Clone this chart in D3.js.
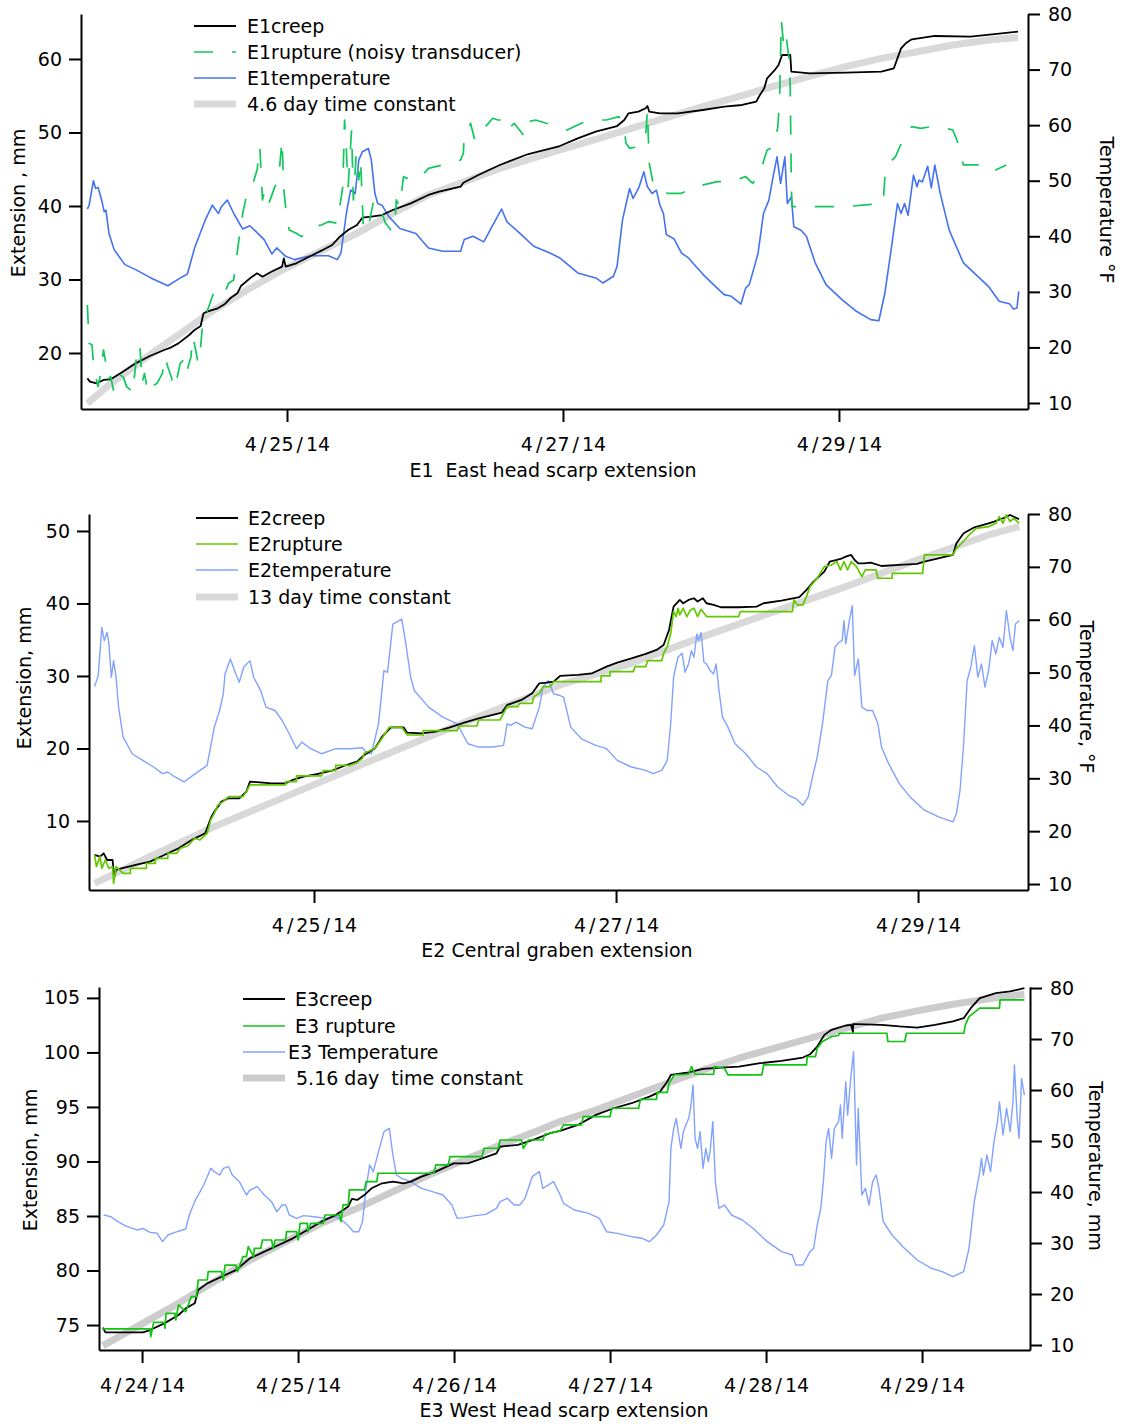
<!DOCTYPE html>
<html>
<head>
<meta charset="utf-8">
<script src="https://cdn.jsdelivr.net/npm/d3@7"></script>
<style>
  body { margin: 0; background: #fff; }
  svg text { font-family: "DejaVu Sans", sans-serif; font-size: 19px; fill: #000; }
</style>
</head>
<body>
<svg id="chart" width="1122" height="1424"></svg>
<script>
// time values are days after 4/23/14 00:00, readings taken off the original plot

// ---- E1 East head scarp ----
const e1Temp = [[0.553,44.9],[0.566,45.6],[0.597,50.0],[0.613,48.6],[0.631,48.8],[0.657,46.5],[0.675,44.4],[0.688,44.7],[0.709,40.6],[0.747,37.6],[0.825,34.9],[0.903,34.0],[1.006,32.6],[1.136,31.1],[1.213,32.3],[1.278,33.2],[1.330,37.9],[1.407,42.9],[1.459,45.6],[1.503,44.1],[1.524,45.3],[1.568,46.5],[1.614,44.1],[1.679,41.3],[1.731,41.9],[1.834,39.4],[1.891,36.8],[1.925,37.9],[1.990,36.4],[2.054,35.8],[2.171,36.5],[2.300,36.5],[2.365,35.8],[2.391,37.0],[2.430,44.1],[2.461,48.3],[2.494,47.7],[2.520,53.7],[2.546,55.2],[2.590,55.8],[2.611,53.7],[2.637,47.7],[2.657,45.9],[2.688,45.6],[2.740,43.5],[2.818,41.4],[2.934,40.5],[3.025,37.9],[3.128,37.3],[3.258,37.3],[3.284,39.4],[3.348,40.0],[3.426,39.0],[3.504,42.6],[3.555,44.9],[3.594,42.6],[3.698,40.3],[3.788,38.2],[3.905,37.0],[3.977,36.1],[4.107,33.4],[4.237,32.5],[4.289,31.6],[4.366,32.8],[4.392,34.6],[4.431,42.9],[4.483,48.6],[4.508,46.8],[4.552,48.9],[4.586,51.6],[4.612,48.9],[4.646,47.7],[4.677,48.3],[4.702,45.6],[4.728,44.1],[4.749,40.3],[4.806,39.5],[4.858,37.0],[4.909,36.1],[5.013,33.2],[5.091,31.3],[5.168,29.5],[5.220,29.2],[5.290,27.8],[5.324,30.7],[5.350,31.3],[5.388,34.6],[5.414,37.0],[5.453,44.1],[5.492,46.5],[5.518,50.1],[5.551,54.3],[5.577,49.5],[5.608,54.3],[5.626,45.9],[5.655,47.1],[5.673,41.7],[5.725,41.1],[5.764,40.0],[5.828,35.2],[5.906,31.3],[6.022,28.6],[6.126,26.5],[6.230,25.0],[6.289,24.8],[6.333,29.8],[6.385,38.8],[6.424,45.9],[6.450,44.1],[6.475,45.9],[6.501,43.8],[6.540,51.0],[6.566,48.9],[6.579,50.1],[6.605,49.8],[6.643,52.6],[6.669,48.7],[6.695,52.8],[6.734,47.7],[6.799,41.1],[6.902,35.2],[7.006,32.8],[7.083,31.0],[7.161,28.3],[7.239,27.8],[7.264,26.9],[7.290,27.1],[7.303,30.1]];

const e1Creep = [[0.553,16.55],[0.572,16.1],[0.619,15.87],[0.670,16.33],[0.722,16.42],[0.799,17.32],[0.903,18.59],[1.006,19.59],[1.110,20.41],[1.161,20.77],[1.213,21.31],[1.291,22.45],[1.330,23.13],[1.374,23.67],[1.395,25.40],[1.420,25.62],[1.498,26.08],[1.550,26.67],[1.589,27.44],[1.640,28.12],[1.666,29.11],[1.731,30.16],[1.783,30.84],[1.822,30.38],[1.886,31.06],[1.964,31.75],[1.977,32.88],[1.990,31.75],[2.067,32.2],[2.171,33.2],[2.249,33.92],[2.327,34.69],[2.378,35.74],[2.443,36.73],[2.507,37.41],[2.546,38.41],[2.611,38.55],[2.688,38.77],[2.766,39.45],[2.896,40.36],[3.025,41.5],[3.102,41.95],[3.258,42.63],[3.278,43.17],[3.387,44.22],[3.542,45.58],[3.749,47.07],[3.977,48.16],[4.107,49.2],[4.237,50.11],[4.392,50.88],[4.444,51.7],[4.475,52.61],[4.547,52.83],[4.599,53.29],[4.612,53.6],[4.625,52.83],[4.702,52.61],[4.832,52.61],[5.013,53.06],[5.168,53.51],[5.298,53.74],[5.401,54.19],[5.427,55.1],[5.458,56.0],[5.479,57.37],[5.531,58.41],[5.562,59.18],[5.588,60.54],[5.647,60.54],[5.655,58.27],[5.790,58.05],[6.048,58.14],[6.307,58.27],[6.398,58.73],[6.450,61.45],[6.489,62.22],[6.528,62.67],[6.695,63.13],[6.954,63.04],[7.298,63.72]];

const e1Rupture = [[0.553,26.53],[0.566,21.31],[0.587,21.09],[0.597,18.59],[0.613,16.78],[0.631,15.42],[0.649,17.23],[0.670,20.41],[0.683,19.05],[0.696,16.33],[0.722,16.78],[0.742,14.97],[0.773,17.23],[0.812,16.78],[0.838,15.42],[0.864,14.97],[0.882,14.51],[0.916,20.86],[0.934,21.09],[0.949,15.87],[0.967,17.23],[0.993,14.51],[1.019,15.42],[1.058,15.87],[1.097,17.23],[1.115,19.5],[1.136,18.14],[1.161,16.78],[1.182,15.19],[1.200,16.33],[1.226,18.59],[1.252,19.05],[1.270,17.23],[1.304,19.5],[1.317,22.22],[1.338,20.41],[1.356,18.59],[1.374,20.86],[1.395,25.4],[1.420,25.62],[1.467,28.12],[1.498,27.66],[1.537,27.66],[1.576,29.48],[1.614,29.93],[1.632,32.65],[1.648,34.92],[1.666,37.19],[1.679,39.0],[1.700,40.82],[1.731,41.72],[1.757,43.31],[1.783,44.9],[1.803,48.07],[1.822,40.82],[1.834,41.72],[1.860,39.91],[1.886,41.27],[1.912,42.63],[1.938,43.54],[1.964,48.98],[1.977,42.17],[1.990,39.91],[2.016,36.73],[2.067,36.28],[2.106,35.83],[2.145,36.73],[2.197,37.19],[2.249,37.41],[2.300,37.87],[2.365,37.64],[2.404,42.63],[2.417,51.7],[2.430,47.62],[2.443,42.63],[2.468,50.34],[2.481,40.82],[2.502,47.16],[2.520,43.54],[2.533,46.26],[2.554,36.73],[2.585,36.73],[2.624,40.36],[2.650,40.82],[2.688,39.0],[2.714,37.64],[2.753,36.73],[2.779,36.73],[2.792,40.82],[2.818,39.91],[2.844,43.99],[2.896,43.54],[2.973,43.99],[3.025,45.12],[3.077,45.35],[3.128,45.58],[3.180,45.8],[3.258,46.26],[3.278,47.16],[3.284,49.43],[3.310,49.89],[3.330,51.25],[3.361,48.98],[3.400,49.43],[3.439,50.79],[3.491,51.93],[3.529,51.7],[3.568,51.7],[3.594,50.34],[3.646,51.25],[3.723,49.43],[3.749,51.47],[3.801,51.7],[3.879,51.25],[3.977,50.79],[4.030,50.34],[4.133,51.25],[4.211,51.7],[4.314,51.7],[4.405,52.15],[4.444,50.34],[4.457,48.52],[4.483,47.84],[4.547,48.07],[4.599,49.43],[4.612,53.06],[4.625,45.8],[4.651,43.31],[4.702,43.08],[4.754,41.72],[4.858,41.72],[4.961,42.63],[5.117,43.31],[5.220,43.31],[5.324,43.99],[5.375,43.08],[5.427,44.44],[5.479,47.62],[5.531,48.07],[5.557,50.79],[5.570,54.42],[5.582,65.3],[5.603,61.22],[5.621,62.58],[5.639,59.86],[5.647,55.78],[5.655,42.63],[5.660,39.91],[5.790,39.91],[6.048,39.91],[6.320,40.36],[6.338,45.35],[6.410,46.71],[6.462,48.98],[6.527,50.79],[6.592,50.57],[6.669,50.79],[6.772,50.57],[6.825,50.34],[6.864,48.52],[6.902,45.58],[7.006,45.58],[7.109,45.58],[7.135,44.9],[7.213,45.58]];

const e1Fit = [[0.553,13.15],[0.696,15.42],[0.955,19.05],[1.213,22.45],[1.472,25.85],[1.731,28.8],[1.990,31.52],[2.249,33.92],[2.507,36.28],[2.766,39.0],[3.025,41.5],[3.284,43.31],[3.542,45.12],[3.977,47.62],[4.237,49.07],[4.496,50.56],[4.754,52.06],[5.013,53.51],[5.272,54.87],[5.531,56.32],[5.790,57.68],[6.048,58.95],[6.307,60.08],[6.566,60.99],[6.825,61.9],[7.083,62.58],[7.298,62.94]];

// ---- E2 Central graben ----
const e2Temp = [[0.547,47.36],[0.571,49.43],[0.595,58.55],[0.611,56.04],[0.630,57.61],[0.642,55.41],[0.658,49.12],[0.673,52.26],[0.689,49.12],[0.706,43.46],[0.736,37.8],[0.796,34.65],[0.866,33.39],[0.937,32.14],[0.997,30.88],[1.032,31.19],[1.079,30.25],[1.139,29.31],[1.198,30.56],[1.292,32.45],[1.340,39.68],[1.375,42.83],[1.399,45.97],[1.411,49.75],[1.446,52.58],[1.482,49.75],[1.505,48.17],[1.534,51.0],[1.576,52.26],[1.600,49.12],[1.647,46.6],[1.682,43.46],[1.742,42.83],[1.789,40.94],[1.836,38.43],[1.884,35.6],[1.919,36.85],[1.978,35.6],[2.049,34.65],[2.144,35.6],[2.238,35.6],[2.321,35.78],[2.345,34.97],[2.380,34.65],[2.427,40.31],[2.463,50.38],[2.487,50.06],[2.522,59.18],[2.581,60.12],[2.605,56.04],[2.640,49.12],[2.664,46.6],[2.759,43.46],[2.853,41.57],[2.948,40.31],[3.019,36.54],[3.090,35.91],[3.184,35.91],[3.255,36.22],[3.279,40.31],[3.303,40.0],[3.338,40.63],[3.397,39.68],[3.445,39.37],[3.492,43.46],[3.516,47.23],[3.551,48.49],[3.587,45.97],[3.629,45.66],[3.653,45.34],[3.700,39.68],[3.771,37.48],[3.866,36.22],[3.937,35.6],[4.008,33.39],[4.102,32.14],[4.197,31.51],[4.244,30.88],[4.303,31.51],[4.339,33.39],[4.362,40.31],[4.381,49.12],[4.410,52.89],[4.438,53.65],[4.457,50.06],[4.480,51.64],[4.499,54.15],[4.516,52.89],[4.535,57.3],[4.547,56.04],[4.563,57.61],[4.582,51.95],[4.599,51.64],[4.623,50.38],[4.646,49.75],[4.663,51.64],[4.682,46.6],[4.705,41.57],[4.741,39.68],[4.788,36.54],[4.859,34.65],[4.930,32.14],[5.000,30.88],[5.071,28.36],[5.142,26.79],[5.190,26.16],[5.237,24.9],[5.273,26.48],[5.296,29.62],[5.332,34.02],[5.367,40.31],[5.403,48.49],[5.426,49.43],[5.450,54.78],[5.474,55.72],[5.497,56.04],[5.509,59.81],[5.521,55.41],[5.545,59.81],[5.564,62.64],[5.580,49.43],[5.604,52.58],[5.628,43.46],[5.663,42.83],[5.699,42.83],[5.734,40.31],[5.758,35.91],[5.805,32.77],[5.876,28.99],[5.947,26.48],[6.042,23.96],[6.136,22.7],[6.231,21.76],[6.254,23.33],[6.278,27.74],[6.302,36.54],[6.325,48.49],[6.349,51.0],[6.373,55.09],[6.396,49.12],[6.420,51.64],[6.443,47.23],[6.467,50.38],[6.491,56.04],[6.515,53.52],[6.538,56.67],[6.562,54.78],[6.585,61.7],[6.609,56.67],[6.628,54.15],[6.645,59.18],[6.669,59.81]];

const e2Creep = [[0.547,5.31],[0.583,5.08],[0.607,5.54],[0.630,4.62],[0.666,4.62],[0.677,2.32],[0.689,3.24],[0.725,3.47],[0.819,3.93],[0.914,4.39],[1.008,5.31],[1.103,6.23],[1.198,7.47],[1.280,8.30],[1.316,10.37],[1.340,11.29],[1.387,12.67],[1.434,13.13],[1.505,13.13],[1.552,14.05],[1.576,15.43],[1.718,15.2],[1.812,15.2],[1.860,15.66],[1.931,16.12],[2.025,16.48],[2.120,16.94],[2.214,17.72],[2.285,18.18],[2.333,19.1],[2.404,20.02],[2.451,21.63],[2.510,22.92],[2.593,22.92],[2.617,22.18],[2.711,22.09],[2.806,22.32],[2.900,22.92],[2.995,23.56],[3.090,24.16],[3.184,24.62],[3.243,24.94],[3.279,26.0],[3.374,26.69],[3.445,27.61],[3.492,28.99],[3.539,29.08],[3.587,29.22],[3.629,30.0],[3.747,30.14],[3.842,30.37],[3.937,31.29],[4.008,31.84],[4.102,32.44],[4.197,33.04],[4.268,33.59],[4.315,34.28],[4.351,36.35],[4.381,39.57],[4.422,40.49],[4.445,40.03],[4.480,40.49],[4.516,40.72],[4.540,40.26],[4.575,40.72],[4.599,40.03],[4.646,39.8],[4.694,39.48],[4.812,39.48],[4.930,39.57],[4.977,40.03],[5.095,40.4],[5.214,40.86],[5.261,41.87],[5.308,43.01],[5.379,44.39],[5.415,45.77],[5.462,46.0],[5.497,46.23],[5.521,46.46],[5.557,46.69],[5.580,46.0],[5.604,45.54],[5.639,45.54],[5.687,45.63],[5.758,45.17],[5.876,45.31],[5.994,45.45],[6.042,45.77],[6.231,46.69],[6.254,48.3],[6.302,49.68],[6.373,50.51],[6.467,51.06],[6.503,51.29],[6.562,51.75],[6.609,52.21],[6.669,51.61]];

const e2Rupture = [[0.547,5.31],[0.559,3.70],[0.583,5.08],[0.595,3.47],[0.618,4.62],[0.642,3.47],[0.666,3.70],[0.673,1.40],[0.689,3.70],[0.736,2.78],[0.784,2.78],[0.784,3.47],[0.890,3.47],[0.890,4.16],[0.949,4.16],[0.949,4.85],[1.032,4.85],[1.032,5.54],[1.091,5.54],[1.115,6.23],[1.162,6.55],[1.210,7.61],[1.245,7.38],[1.292,8.30],[1.316,10.14],[1.340,11.06],[1.363,12.21],[1.399,12.67],[1.434,13.36],[1.529,13.36],[1.552,14.05],[1.576,14.97],[1.812,14.97],[1.812,15.43],[1.884,15.43],[1.884,16.21],[2.049,16.21],[2.061,16.94],[2.144,16.94],[2.144,17.68],[2.238,17.68],[2.285,18.05],[2.321,18.64],[2.333,19.33],[2.404,20.02],[2.451,21.4],[2.498,22.92],[2.581,22.92],[2.617,21.86],[2.723,21.86],[2.723,22.46],[2.948,22.46],[2.960,23.1],[3.078,23.1],[3.090,23.93],[3.231,23.93],[3.255,24.85],[3.279,25.77],[3.350,25.77],[3.362,26.23],[3.445,26.23],[3.456,27.15],[3.492,27.61],[3.516,28.53],[3.563,28.53],[3.587,29.22],[3.901,29.22],[3.901,30.0],[3.960,30.0],[3.960,30.6],[4.114,30.6],[4.126,31.29],[4.197,31.29],[4.209,32.12],[4.303,32.12],[4.315,33.13],[4.339,34.05],[4.362,35.89],[4.381,38.88],[4.398,38.19],[4.410,39.34],[4.422,38.42],[4.445,39.34],[4.469,38.19],[4.493,39.11],[4.516,39.34],[4.540,38.19],[4.563,39.2],[4.599,38.19],[4.812,38.19],[4.823,38.88],[5.167,38.88],[5.178,40.49],[5.202,39.8],[5.237,39.8],[5.261,40.95],[5.285,42.33],[5.332,43.48],[5.379,45.08],[5.426,45.31],[5.462,45.77],[5.486,44.62],[5.509,45.77],[5.533,44.62],[5.557,45.77],[5.592,45.08],[5.628,43.7],[5.651,44.62],[5.722,44.62],[5.734,43.48],[5.829,43.48],[5.829,44.16],[6.030,44.16],[6.042,46.69],[6.231,46.69],[6.254,47.61],[6.278,48.07],[6.349,49.68],[6.385,50.37],[6.467,50.6],[6.515,51.06],[6.538,51.98],[6.562,51.06],[6.585,52.21],[6.609,51.29],[6.633,51.75],[6.669,51.06]];

const e2Fit = [[0.547,1.4],[0.867,4.62],[1.340,9.22],[1.812,13.36],[2.285,17.5],[2.759,21.63],[3.232,25.54],[3.629,28.76],[4.102,31.75],[4.575,35.43],[5.048,38.88],[5.521,42.33],[5.994,46.0],[6.467,49.45],[6.669,50.6]];

// ---- E3 West head scarp ----
const e3Temp = [[0.754,35.49],[0.799,35.16],[0.845,34.18],[0.891,33.4],[0.937,32.88],[0.971,32.55],[1.005,32.88],[1.051,32.09],[1.097,31.9],[1.131,30.26],[1.166,31.57],[1.211,32.09],[1.280,32.75],[1.303,35.49],[1.337,38.1],[1.395,41.37],[1.441,44.64],[1.463,43.99],[1.498,43.33],[1.521,44.64],[1.555,44.97],[1.578,43.33],[1.624,42.03],[1.669,39.41],[1.692,40.39],[1.738,41.05],[1.784,39.41],[1.830,38.1],[1.864,36.14],[1.898,37.45],[1.921,37.45],[1.944,35.49],[1.990,34.84],[2.036,35.36],[2.104,35.16],[2.173,34.84],[2.242,35.16],[2.288,34.31],[2.322,33.4],[2.356,32.22],[2.390,32.22],[2.413,34.18],[2.436,40.72],[2.459,45.29],[2.482,43.99],[2.516,47.91],[2.551,51.83],[2.585,52.48],[2.608,47.25],[2.631,43.33],[2.665,42.68],[2.723,42.03],[2.791,40.72],[2.860,40.07],[2.929,39.41],[2.986,37.45],[3.020,34.84],[3.066,34.97],[3.135,35.36],[3.203,35.62],[3.272,36.8],[3.295,38.1],[3.341,38.76],[3.386,37.45],[3.421,37.45],[3.455,38.76],[3.501,43.01],[3.547,43.99],[3.569,40.72],[3.604,41.37],[3.638,42.03],[3.680,39.41],[3.702,37.78],[3.771,36.47],[3.863,35.82],[3.932,34.84],[3.977,32.22],[4.046,31.9],[4.138,31.24],[4.206,30.92],[4.252,30.26],[4.298,31.57],[4.344,33.53],[4.378,38.1],[4.390,48.56],[4.408,52.48],[4.424,54.44],[4.440,51.18],[4.454,48.56],[4.470,51.83],[4.486,53.14],[4.504,54.44],[4.516,56.4],[4.532,60.98],[4.545,50.52],[4.561,48.56],[4.577,51.83],[4.596,44.64],[4.614,48.56],[4.630,45.95],[4.641,47.91],[4.659,53.79],[4.675,42.03],[4.698,36.8],[4.733,37.45],[4.779,35.49],[4.848,34.51],[4.916,32.88],[4.962,31.57],[5.008,30.26],[5.099,28.3],[5.168,27.65],[5.191,25.69],[5.236,25.69],[5.282,28.3],[5.305,28.95],[5.328,33.53],[5.351,36.8],[5.369,42.68],[5.385,49.87],[5.401,52.48],[5.420,46.6],[5.438,52.48],[5.465,53.79],[5.477,57.06],[5.488,50.52],[5.511,61.63],[5.523,55.1],[5.545,62.94],[5.561,67.52],[5.580,45.29],[5.591,56.4],[5.614,39.41],[5.637,40.72],[5.660,37.45],[5.683,42.03],[5.706,43.33],[5.724,40.72],[5.751,34.18],[5.808,31.57],[5.877,29.28],[5.969,26.67],[6.060,25.03],[6.129,24.38],[6.198,23.4],[6.267,24.38],[6.301,28.95],[6.335,38.1],[6.370,43.99],[6.381,46.6],[6.393,43.33],[6.416,47.25],[6.439,43.99],[6.461,49.87],[6.484,53.79],[6.496,57.71],[6.519,51.18],[6.542,56.4],[6.565,51.83],[6.583,57.71],[6.592,64.9],[6.610,54.44],[6.622,50.52],[6.638,62.29],[6.656,59.02]];

const e3Creep = [[0.749,74.76],[0.765,74.33],[1.005,74.33],[1.051,74.54],[1.143,75.15],[1.234,75.92],[1.280,76.53],[1.338,76.99],[1.360,78.21],[1.418,78.82],[1.509,79.43],[1.601,80.04],[1.692,81.12],[1.784,81.73],[1.876,82.34],[1.967,82.95],[2.059,83.72],[2.150,84.48],[2.242,85.09],[2.322,85.86],[2.345,86.56],[2.379,86.47],[2.425,86.92],[2.471,87.54],[2.539,88.0],[2.608,88.15],[2.677,88.0],[2.723,88.15],[2.791,88.61],[2.883,89.07],[2.997,89.83],[3.089,89.83],[3.180,90.29],[3.272,90.75],[3.295,91.36],[3.410,91.52],[3.524,92.07],[3.615,92.59],[3.680,92.8],[3.794,93.35],[3.909,94.27],[4.023,94.88],[4.138,95.34],[4.252,95.95],[4.321,96.41],[4.367,97.33],[4.390,97.94],[4.504,98.18],[4.596,98.49],[4.710,98.61],[4.825,98.7],[4.962,99.01],[5.099,99.22],[5.236,99.53],[5.282,99.83],[5.328,100.54],[5.374,101.61],[5.420,102.07],[5.511,102.47],[5.545,102.53],[5.557,101.86],[5.558,102.59],[5.580,102.59],[5.740,102.53],[5.855,102.38],[5.969,102.28],[6.083,102.53],[6.198,102.84],[6.267,103.14],[6.312,104.06],[6.370,104.98],[6.473,105.44],[6.565,105.59],[6.656,105.89]];

const e3Rupture = [[0.749,74.64],[1.051,74.64],[1.056,73.93],[1.074,75.24],[1.143,75.24],[1.147,74.7],[1.154,76.07],[1.211,76.07],[1.216,75.46],[1.234,76.84],[1.280,76.22],[1.315,77.6],[1.349,77.6],[1.360,79.13],[1.418,79.13],[1.424,79.89],[1.509,79.89],[1.521,79.13],[1.532,80.5],[1.601,80.5],[1.612,79.89],[1.647,81.27],[1.669,81.27],[1.681,82.19],[1.715,81.27],[1.720,82.03],[1.761,82.03],[1.772,82.8],[1.830,82.8],[1.841,82.03],[1.853,82.8],[1.921,82.8],[1.926,83.56],[1.990,83.56],[2.001,82.8],[2.013,84.33],[2.059,84.33],[2.063,83.56],[2.081,84.33],[2.162,84.33],[2.173,85.09],[2.265,85.09],[2.276,84.48],[2.288,86.01],[2.322,86.01],[2.329,87.39],[2.425,87.39],[2.436,88.15],[2.505,88.15],[2.512,88.92],[2.871,88.92],[2.883,89.68],[2.963,89.68],[2.974,90.44],[3.180,90.44],[3.192,91.21],[3.284,91.21],[3.295,91.97],[3.432,91.97],[3.444,91.21],[3.478,91.97],[3.570,91.97],[3.581,92.49],[3.680,92.8],[3.702,93.35],[3.817,93.35],[3.828,94.11],[4.000,94.11],[4.011,94.88],[4.183,94.88],[4.195,95.7],[4.298,95.7],[4.302,96.34],[4.367,96.34],[4.378,97.17],[4.413,97.94],[4.504,98.0],[4.522,98.7],[4.545,98.0],[4.664,98.0],[4.668,98.7],[4.733,98.55],[4.756,97.94],[4.973,97.94],[4.985,98.86],[5.259,98.86],[5.264,99.62],[5.317,99.62],[5.328,100.39],[5.362,101.0],[5.420,101.46],[5.465,101.55],[5.470,101.76],[5.774,101.76],[5.781,101.0],[5.889,101.0],[5.900,101.76],[6.267,101.76],[6.278,102.53],[6.301,103.29],[6.370,104.06],[6.496,104.06],[6.500,104.82],[6.656,104.82]];

const e3Fit = [[0.749,73.11],[1.005,75.15],[1.234,76.99],[1.463,78.98],[1.692,80.96],[1.921,82.65],[2.150,84.33],[2.379,85.7],[2.608,87.23],[2.837,88.76],[3.066,90.14],[3.295,91.52],[3.524,92.74],[3.680,93.66],[3.909,94.72],[4.138,95.95],[4.367,97.17],[4.596,98.39],[4.825,99.47],[5.054,100.39],[5.282,101.3],[5.511,102.22],[5.740,103.14],[5.969,103.81],[6.198,104.42],[6.427,104.91],[6.656,105.34]];

// axis ticks
const e1ExtTicks = [20, 30, 40, 50, 60];
const e2ExtTicks = [10, 20, 30, 40, 50];
const e3ExtTicks = [75, 80, 85, 90, 95, 100, 105];
const tempTicks = [10, 20, 30, 40, 50, 60, 70, 80];
const e1DateTicks = [2, 4, 6];
const e2DateTicks = [2, 4, 6];
const e3DateTicks = [1, 2, 3, 4, 5, 6];

const base = new Date(2014, 3, 23);
const day = t => new Date(base.getTime() + t * 864e5);
const fmt = d3.timeFormat("%-m/%-d/%y");

const gray = {color: "#d9d9d9", width: 7};

const panels = [
  {
    left: 81, right: 1028, top: 14, bottom: 409,
    xDomain: [0.507, 7.37], yLeft: [12.38, 66.12], yRight: [8.92, 80],
    extTicks: e1ExtTicks, dateTicks: e1DateTicks,
    leftTitle: "Extension , mm", leftTitlePos: [25, 203],
    rightTitle: "Temperature °F", rightTitlePos: [1100, 210],
    xTitle: "E1  East head scarp extension", xTitlePos: [553, 477],
    legend: {x1: 194, x2: 236, tx: 247, rows: [26, 52, 78, 104]},
    series: [
      {name: "4.6 day time constant", data: e1Fit, axis: "L", ...gray},
      {name: "E1temperature", data: e1Temp, axis: "R", color: "#4472f0", width: 1.6},
      {name: "E1creep", data: e1Creep, axis: "L", color: "#000", width: 1.8},
      {name: "E1rupture (noisy transducer)", data: e1Rupture, axis: "L", color: "#12c85c", width: 1.7, dash: "19,19"}
    ],
    legendOrder: [2, 3, 1, 0]
  },
  {
    left: 89, right: 1028, top: 514, bottom: 890,
    xDomain: [0.51, 6.728], yLeft: [0.48, 52.34], yRight: [8.87, 80],
    extTicks: e2ExtTicks, dateTicks: e2DateTicks,
    leftTitle: "Extension, mm", leftTitlePos: [31, 678],
    rightTitle: "Temperature, °F", rightTitlePos: [1080, 697],
    xTitle: "E2 Central graben extension", xTitlePos: [557, 957],
    legend: {x1: 196, x2: 238, tx: 248, rows: [518, 544, 570, 597]},
    series: [
      {name: "13 day time constant", data: e2Fit, axis: "L", ...gray},
      {name: "E2temperature", data: e2Temp, axis: "R", color: "#82a2ff", width: 1.4},
      {name: "E2creep", data: e2Creep, axis: "L", color: "#000", width: 1.8},
      {name: "E2rupture", data: e2Rupture, axis: "L", color: "#62c800", width: 1.7}
    ],
    legendOrder: [2, 3, 1, 0]
  },
  {
    left: 99, right: 1030, top: 987, bottom: 1350,
    xDomain: [0.724, 6.692], yLeft: [72.71, 106.0], yRight: [9.02, 80.2],
    extTicks: e3ExtTicks, dateTicks: e3DateTicks,
    leftTitle: "Extension, mm", leftTitlePos: [37, 1160],
    rightTitle: "Temperature, mm", rightTitlePos: [1089, 1166],
    xTitle: "E3 West Head scarp extension", xTitlePos: [564, 1417],
    legend: {x1: 243, x2: 285, tx: [295, 295, 288, 296], rows: [999, 1026, 1052, 1078]},
    series: [
      {name: "5.16 day  time constant", data: e3Fit, axis: "L", color: "#cccccc", width: 7},
      {name: "E3 Temperature", data: e3Temp, axis: "R", color: "#82a2ff", width: 1.4},
      {name: "E3creep", data: e3Creep, axis: "L", color: "#000", width: 1.8},
      {name: "E3 rupture", data: e3Rupture, axis: "L", color: "#12c412", width: 1.7}
    ],
    legendOrder: [2, 3, 1, 0]
  }
];

const svg = d3.select("#chart");

function styleAxis(ax) {
  ax.attr("font-size", null).attr("font-family", null);
  ax.selectAll("path, line").attr("stroke", "#000").attr("stroke-width", 2);
}

panels.forEach(p => {
  const g = svg.append("g");
  const x = d3.scaleTime().domain(p.xDomain.map(day)).range([p.left, p.right]);
  const yL = d3.scaleLinear().domain(p.yLeft).range([p.bottom, p.top]);
  const yR = d3.scaleLinear().domain(p.yRight).range([p.bottom, p.top]);

  // series
  p.series.forEach(s => {
    const y = s.axis === "R" ? yR : yL;
    g.append("path")
      .datum(s.data)
      .attr("fill", "none")
      .attr("stroke", s.color)
      .attr("stroke-width", s.width)
      .attr("stroke-dasharray", s.dash || null)
      .attr("stroke-linejoin", "round")
      .attr("d", d3.line().x(d => x(day(d[0]))).y(d => y(d[1])));
  });

  // axes
  const axL = g.append("g").attr("transform", `translate(${p.left},0)`)
    .call(d3.axisLeft(yL).tickValues(p.extTicks).tickSize(12).tickPadding(7).tickSizeOuter(0));
  styleAxis(axL);

  const axR = g.append("g").attr("transform", `translate(${p.right},0)`)
    .call(d3.axisRight(yR).tickValues(tempTicks).tickSize(12).tickPadding(8).tickSizeOuter(0));
  styleAxis(axR);

  const axB = g.append("g").attr("transform", `translate(0,${p.bottom})`)
    .call(d3.axisBottom(x).tickValues(p.dateTicks.map(day)).tickSize(13).tickPadding(16).tickSizeOuter(0));
  styleAxis(axB);
  axB.selectAll(".tick text").each(function(d) {
    const el = d3.select(this);
    const parts = fmt(d).split("/");
    el.text(null);
    parts.forEach((s, i) => {
      if (i) el.append("tspan").attr("dx", 3).text("/");
      el.append("tspan").attr("dx", i ? 3 : 0).text(s);
    });
  });

  // titles
  g.append("text")
    .attr("transform", `translate(${p.leftTitlePos[0]},${p.leftTitlePos[1]}) rotate(-90)`)
    .attr("text-anchor", "middle").text(p.leftTitle);
  g.append("text")
    .attr("transform", `translate(${p.rightTitlePos[0]},${p.rightTitlePos[1]}) rotate(90)`)
    .attr("text-anchor", "middle").text(p.rightTitle);
  g.append("text")
    .attr("x", p.xTitlePos[0]).attr("y", p.xTitlePos[1])
    .attr("text-anchor", "middle").style("white-space", "pre").text(p.xTitle);

  // legend
  const lg = p.legend;
  p.legendOrder.forEach((si, row) => {
    const s = p.series[si];
    const y = lg.rows[row];
    g.append("line")
      .attr("x1", lg.x1).attr("x2", lg.x2).attr("y1", y).attr("y2", y)
      .attr("stroke", s.color).attr("stroke-width", s.width)
      .attr("stroke-dasharray", s.dash || null);
    const tx = Array.isArray(lg.tx) ? lg.tx[row] : lg.tx;
    g.append("text").attr("x", tx).attr("y", y + 7)
      .style("white-space", "pre").text(s.name);
  });
});
</script>
</body>
</html>
